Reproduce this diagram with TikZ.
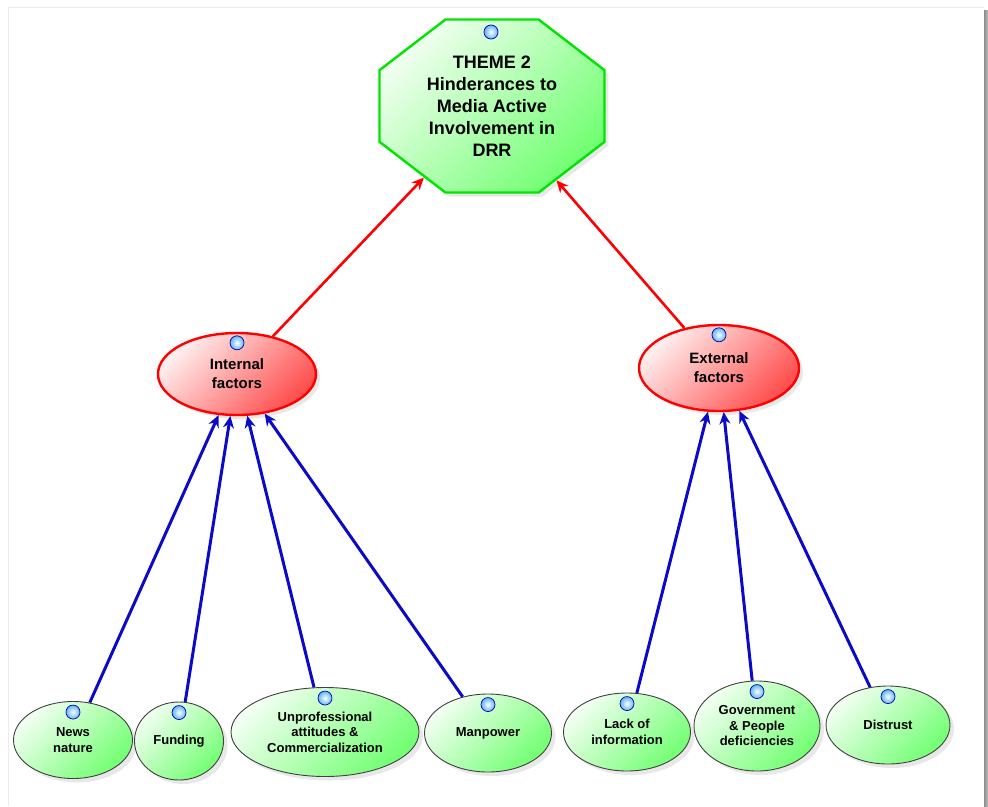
\documentclass[tikz,border=0pt]{standalone}
\usepackage{fontspec}
\setmainfont{Liberation Sans}
\usetikzlibrary{shapes.geometric,shadows,calc,arrows.meta}

\definecolor{bulbblue}{RGB}{95,180,250}
\definecolor{linkblue}{RGB}{10,10,200}

\tikzset{
  octagon/.style={regular polygon, regular polygon sides=8, minimum size=187.3pt, inner sep=0pt,
    xscale=1.3, transform shape,
    draw=green!90!black, line width=2.4pt, top color=green!6, bottom color=green!55, shading angle=45,
    drop shadow={opacity=0.18, shadow xshift=4pt, shadow yshift=-4pt}},
  themetext/.style={align=center, font=\bfseries\fontsize{18}{22}\selectfont},
  factor/.style={ellipse, draw=red, line width=2.4pt, top color=red!6, bottom color=red!70, shading angle=45,
    inner sep=0pt, align=center, font=\bfseries\fontsize{15}{19}\selectfont,
    drop shadow={opacity=0.18, shadow xshift=4pt, shadow yshift=-4pt}},
  cause/.style={ellipse, draw=black!75, line width=0.9pt, top color=green!5, bottom color=green!55, shading angle=45,
    inner sep=0pt, align=center, font=\bfseries\fontsize{13}{15.5}\selectfont,
    drop shadow={opacity=0.18, shadow xshift=4pt, shadow yshift=-4pt}},
  bulb/.style={circle, draw=blue!65!black, line width=0.7pt, inner color=white, outer color=bulbblue,
    minimum size=14pt, inner sep=0pt},
  redlink/.style={draw=red, line width=2.6pt, ->, >={Stealth[length=12pt,width=11pt]}},
  bluelink/.style={draw=linkblue, line width=3pt, ->, >={Stealth[length=12pt,width=11pt]}},
}

\begin{document}
\begin{tikzpicture}[x=1pt, y=-1pt]
  \useasboundingbox (0,0) rectangle (988,806);
  % page
  \draw[black!8] (8,806) -- (8,7) -- (984,7);
  \shade[left color=black!45, right color=black!25] (984,10) rectangle (988,806);

  % theme
  \node (theme) [octagon] at (492,106) {};
  \node (theme-text) [themetext] at (theme.center) {THEME 2\\Hinderances to\\Media Active\\Involvement in\\DRR};

  % factors
  \node (internal) [factor, minimum width=158pt, minimum height=82pt] at (237,374) {Internal\\factors};
  \node (external) [factor, minimum width=160pt, minimum height=86pt] at (719,368) {External\\factors};

  % causes
  \node (news) [cause, minimum width=119pt, minimum height=77pt] at (73,740) {News\\nature};
  \node (funding) [cause, minimum width=89pt, minimum height=78pt] at (179,741) {Funding};
  \node (unprof) [cause, minimum width=188pt, minimum height=89pt] at (325,732) {Unprofessional\\attitudes \&\\Commercialization};
  \node (manpower) [cause, minimum width=127pt, minimum height=78pt] at (488,733) {Manpower};
  \node (lack) [cause, minimum width=127pt, minimum height=78pt] at (627,732) {Lack of\\information};
  \node (gov) [cause, minimum width=126pt, minimum height=90pt] at (757,726) {Government\\\& People\\deficiencies};
  \node (distrust) [cause, minimum width=124pt, minimum height=78pt] at (888,725) {Distrust};

  \node (bulb-theme) [bulb] at (491,32) {};
  \foreach \n in {internal,external,news,funding,unprof,manpower,lack,gov,distrust}
    \node (bulb-\n) [bulb] at ($(\n.north)+(0,11)$) {};

  \draw [redlink] (internal) -- (theme);
  \draw [redlink] (external) -- (theme);

  \draw [bluelink] (news) -- (internal);
  \draw [bluelink] (funding) -- (internal);
  \draw [bluelink] (unprof) -- (internal);
  \draw [bluelink] (manpower) -- (internal);
  \draw [bluelink] (lack) -- (external);
  \draw [bluelink] (gov) -- (external);
  \draw [bluelink] (distrust) -- (external);
\end{tikzpicture}
\end{document}
